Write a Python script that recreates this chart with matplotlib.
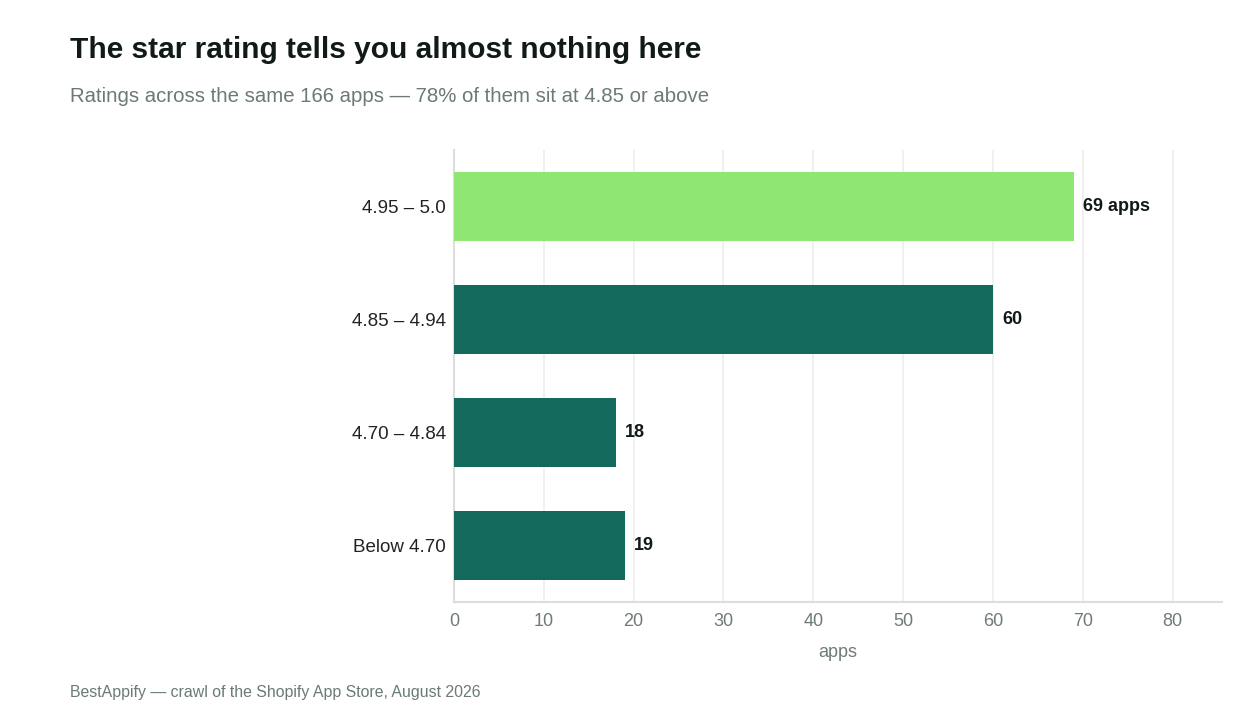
import matplotlib.pyplot as plt

# rating buckets, top to bottom
buckets = ['4.95 – 5.0', '4.85 – 4.94', '4.70 – 4.84', 'Below 4.70']
counts = [69, 60, 18, 19]
value_labels = ['69 apps', '60', '18', '19']
colors = ['#90e672', '#13695c', '#13695c', '#13695c']
x_ticks = [0, 10, 20, 30, 40, 50, 60, 70, 80]

plt.rcParams['font.family'] = ['Liberation Sans', 'DejaVu Sans']

fig = plt.figure(figsize=(12.6, 7.25), dpi=100)
ax = fig.add_axes([454 / 1260, 1 - 602 / 725, (1222 - 454) / 1260, (602 - 150) / 725])

ypos = list(range(len(buckets)))
ax.barh(ypos, counts, height=0.61, color=colors, zorder=3)
for y, v, lab in zip(ypos, counts, value_labels):
    ax.annotate(lab, (v, y), xytext=(6.5, 0), textcoords='offset points',
                va='center', ha='left', fontsize=13, fontweight='bold', color='#111a17')

ax.set_xlim(0, 85.5)
ax.set_ylim(3.5, -0.5)
ax.set_yticks(ypos)
ax.set_yticklabels(buckets, fontsize=13.5, color='#222222')
ax.set_xticks(x_ticks)
ax.tick_params(axis='x', labelsize=13, labelcolor='#6e7b77', length=0, pad=8)
ax.tick_params(axis='y', length=0, pad=6)
ax.grid(axis='x', color='#eeeeee', linewidth=1.2, zorder=0)
for s in ['top', 'right']:
    ax.spines[s].set_visible(False)
ax.spines['left'].set_color('#dddddd')
ax.spines['bottom'].set_color('#dddddd')
ax.spines['left'].set_linewidth(1.5)
ax.spines['bottom'].set_linewidth(1.5)
ax.set_xlabel('apps', fontsize=13, color='#6e7b77', labelpad=10)

fig.text(70 / 1260, 1 - 50 / 725, 'The star rating tells you almost nothing here',
         fontsize=21.5, fontweight='bold', color='#111a17', va='center', ha='left')
fig.text(70 / 1260, 1 - 96 / 725, 'Ratings across the same 166 apps — 78% of them sit at 4.85 or above',
         fontsize=14.7, color='#6b7a75', va='center', ha='left')
fig.text(70 / 1260, 1 - 692 / 725, 'BestAppify — crawl of the Shopify App Store, August 2026',
         fontsize=11.4, color='#6b7a75', va='center', ha='left')

fig.savefig('out.png', dpi=100)
